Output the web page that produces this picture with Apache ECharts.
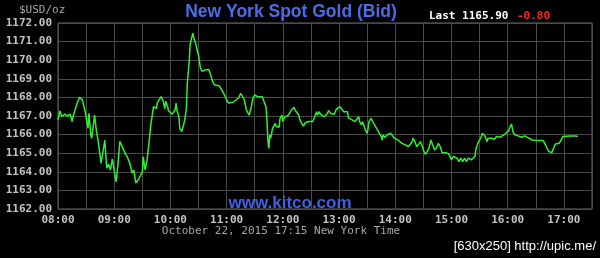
<!DOCTYPE html>
<html>
<head>
<meta charset="utf-8">
<script src="https://cdn.jsdelivr.net/npm/echarts@6/dist/echarts.min.js"></script>
<style>html,body{margin:0;padding:0;background:#000;}#c{width:600px;height:258px;}</style>
</head>
<body>
<div id="c"></div>
<script>
// minutes after 08:00 (New York time) and bid price in USD/oz
const minutesAfter8 = [0,2,4,7,10,13,15,16,18,21,23,26,27,29,32,33,35,36,39,41,43,46,48,50,52,54,56,58,62,64,66,69,72,74,77,79,81,83,86,88,90,91,93,95,97,99,101,102,105,106,108,110,111,112,114,115,117,118,120,122,125,126,127,129,130,132,134,136,137,138,140,141,143,144,145,147,148,150,152,154,157,159,161,163,165,167,169,172,174,176,178,180,182,184,187,190,193,195,197,199,201,204,206,208,210,213,215,218,220,222,223,224,225,226,227,229,230,232,233,235,236,237,239,240,242,243,245,247,249,252,253,255,257,258,260,262,264,266,268,270,272,274,276,277,279,280,282,284,286,287,289,291,293,295,297,299,301,303,305,306,307,309,310,312,314,317,318,319,321,322,324,325,327,328,330,331,332,334,335,337,338,340,342,345,346,347,349,351,353,355,357,359,361,363,365,367,369,371,374,376,378,379,381,383,385,387,389,390,392,394,396,398,400,402,404,406,408,410,412,414,417,419,420,422,424,426,428,430,432,434,436,438,441,443,445,446,448,449,450,452,453,455,456,458,459,461,463,466,468,470,472,474,476,478,481,482,484,485,486,488,491,493,495,498,500,503,506,508,510,512,515,518,520,522,524,525,527,529,531,533,535,537,539,541,547,552,555];
const prices = [1166.8,1167.27,1166.96,1167.1,1167.0,1167.1,1166.7,1166.96,1167.3,1167.77,1168.0,1167.88,1167.8,1167.23,1166.34,1167.14,1166.0,1165.8,1167.05,1166.2,1165.6,1164.46,1164.55,1165.7,1164.2,1164.4,1164.1,1164.7,1163.46,1164.4,1165.64,1165.3,1164.95,1164.8,1164.4,1163.93,1164.1,1163.4,1163.6,1163.64,1164.0,1164.8,1164.1,1164.6,1165.5,1166.5,1167.2,1167.5,1167.4,1167.7,1167.6,1168.04,1168.13,1167.85,1167.4,1167.8,1167.5,1167.27,1167.2,1167.1,1167.33,1167.7,1167.3,1166.97,1166.34,1166.16,1166.5,1167.0,1167.4,1168.76,1169.9,1170.82,1171.27,1171.45,1171.18,1170.9,1170.64,1170.28,1169.57,1169.4,1169.48,1169.4,1169.48,1169.2,1168.85,1168.67,1168.7,1168.63,1168.7,1168.3,1168.1,1167.86,1167.7,1167.8,1167.74,1167.86,1167.98,1168.22,1168.2,1167.86,1167.33,1167.05,1167.4,1167.95,1168.13,1168.04,1168.13,1168.04,1167.95,1167.5,1166.8,1165.7,1165.26,1165.98,1165.8,1166.34,1166.3,1166.6,1166.43,1166.5,1166.4,1166.87,1167.05,1166.7,1166.96,1166.87,1167.0,1167.14,1167.32,1167.47,1167.32,1167.23,1167.05,1166.82,1166.6,1166.46,1166.64,1166.66,1166.7,1166.7,1166.7,1166.96,1167.23,1167.05,1167.23,1167.1,1167.0,1166.96,1166.87,1167.1,1167.29,1167.14,1167.23,1167.1,1167.36,1167.29,1167.5,1167.4,1167.23,1167.32,1167.14,1167.23,1166.9,1166.84,1166.79,1166.7,1166.61,1166.84,1166.96,1166.7,1166.52,1166.7,1166.43,1166.25,1166.07,1166.34,1166.7,1166.87,1166.9,1166.6,1166.7,1166.34,1166.16,1165.9,1165.7,1165.98,1165.84,1165.98,1165.89,1166.07,1165.98,1165.8,1165.84,1165.71,1165.62,1165.53,1165.62,1165.44,1165.35,1165.48,1165.62,1165.8,1165.62,1165.35,1165.44,1165.62,1165.35,1165.17,1164.94,1165.08,1165.26,1165.71,1165.44,1165.17,1165.3,1165.53,1165.35,1165.03,1165.0,1165.03,1164.96,1164.9,1164.64,1164.82,1164.9,1164.73,1164.55,1164.73,1164.55,1164.73,1164.55,1164.73,1164.64,1164.73,1164.82,1165.18,1165.53,1165.53,1165.71,1165.9,1166.07,1166.1,1165.9,1165.62,1165.8,1165.9,1165.8,1165.75,1165.9,1165.8,1165.86,1165.9,1165.98,1166.03,1166.2,1166.34,1166.57,1166.34,1166.1,1165.98,1165.93,1165.98,1165.86,1165.93,1165.84,1165.8,1165.71,1165.8,1165.68,1165.75,1165.68,1165.68,1165.62,1165.27,1165.09,1165.18,1165.03,1165.27,1165.5,1165.5,1165.53,1165.62,1165.9,1165.93,1165.93,1165.93,1165.9];
const yMin = 1162, yMax = 1172, yStep = 1;
const xMin = 0, xMax = 570, xStep = 30;
const titleText = 'New York Spot Gold (Bid)';
const unitText = '$USD/oz';
const lastText = 'Last 1165.90';
const changeText = '-0.80';
const siteText = 'www.kitco.com';
const dateText = 'October 22, 2015 17:15 New York Time';
const stampText = '[630x250] http://upic.me/';

const chart = echarts.init(document.getElementById('c'), null, {renderer: 'canvas'});
const mono = 'DejaVu Sans Mono';
const data = minutesAfter8.map((m, i) => [m, prices[i]]);
chart.setOption({
  backgroundColor: '#000',
  animation: false,
  grid: {left: 58, top: 23, width: 534, height: 186, show: true, borderColor: '#6a6a6a', borderWidth: 1, backgroundColor: 'transparent'},
  xAxis: {
    type: 'value', min: xMin, max: xMax, interval: xStep,
    axisLine: {show: false}, axisTick: {show: false},
    splitLine: {show: true, lineStyle: {color: '#4a4a4a', width: 1}},
    axisLabel: {
      margin: 6, color: '#c4c4c4', fontFamily: mono, fontSize: 11, fontWeight: 'bold',
      formatter: v => (v % 60 === 0) ? String(8 + v / 60).padStart(2, '0') + ':00' : ''
    }
  },
  yAxis: {
    type: 'value', min: yMin, max: yMax, interval: yStep,
    axisLine: {show: false}, axisTick: {show: false},
    splitLine: {show: true, lineStyle: {color: '#4a4a4a', width: 1}},
    axisLabel: {margin: 6, color: '#c4c4c4', fontFamily: mono, fontSize: 11, fontWeight: 'bold', formatter: v => v.toFixed(2)}
  },
  graphic: [
    {type: 'text', left: 19, top: 5, style: {text: unitText, fill: '#a8a8a8', font: '11px "DejaVu Sans Mono"'}},
    {type: 'text', x: 291, y: 12, style: {text: titleText, fill: '#4a6ee6', font: 'bold 17.5px "Liberation Sans"', textAlign: 'center', textVerticalAlign: 'middle'}},
    {type: 'text', x: 429, y: 16, style: {text: lastText, fill: '#ffffff', font: 'bold 11px "DejaVu Sans Mono"', textVerticalAlign: 'middle'}},
    {type: 'text', x: 517, y: 16, style: {text: changeText, fill: '#ff2222', font: 'bold 11px "DejaVu Sans Mono"', textVerticalAlign: 'middle'}},
    {type: 'text', x: 290, y: 203, z: 10, style: {text: siteText, fill: '#3d62e4', font: 'bold 17px "Liberation Sans"', textAlign: 'center', textVerticalAlign: 'middle'}},
    {type: 'text', x: 281, y: 231, style: {text: dateText, fill: '#a8a8a8', font: '11px "DejaVu Sans Mono"', textAlign: 'center', textVerticalAlign: 'middle'}},
    {type: 'text', x: 596, y: 246, style: {text: stampText, fill: '#ffffff', font: '13px "Liberation Sans"', textAlign: 'right', textVerticalAlign: 'middle'}}
  ],
  series: [{
    type: 'line', data: data, showSymbol: false, symbol: 'none',
    lineStyle: {color: '#2ef02e', width: 1.5}, z: 5
  }]
});
</script>
</body>
</html>
